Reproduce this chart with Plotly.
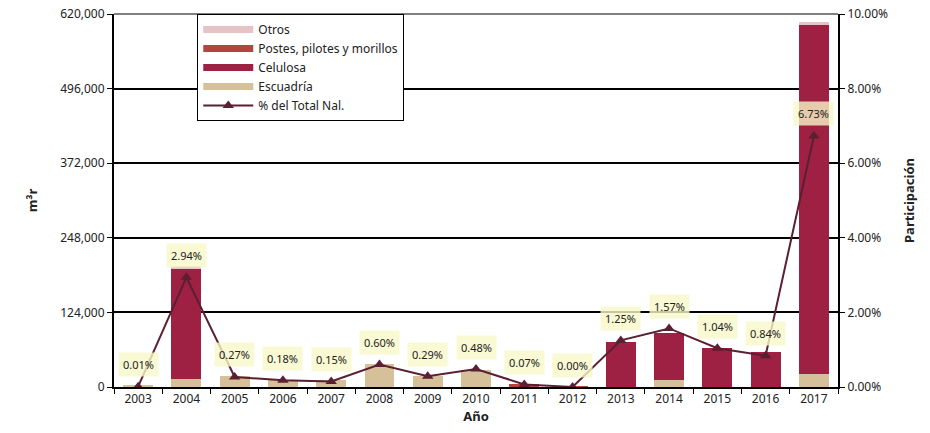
from plotly import graph_objects as go

# Data
years = ["2003", "2004", "2005", "2006", "2007", "2008", "2009", "2010",
         "2011", "2012", "2013", "2014", "2015", "2016", "2017"]
escuadria = [3500, 12800, 18800, 11600, 11600, 38700, 18800, 28300,
             0, 0, 0, 11600, 0, 0, 21600]
celulosa = [0, 183300, 0, 0, 0, 0, 0, 0,
            0, 0, 74800, 77600, 64800, 58200, 581700]
postes = [0, 0, 0, 0, 0, 0, 0, 0,
          4500, 500, 0, 0, 0, 0, 0]
otros = [0, 5500, 0, 0, 0, 0, 0, 0,
         0, 0, 0, 0, 0, 0, 3000]
pct_total = [0.01, 2.94, 0.27, 0.18, 0.15, 0.60, 0.29, 0.48,
             0.07, 0.00, 1.25, 1.57, 1.04, 0.84, 6.73]
left_ticks = [0, 124000, 248000, 372000, 496000, 620000]
right_ticks = [0, 2, 4, 6, 8, 10]

FONT = "Noto Sans"
LINE_COLOUR = "#5a1f30"

fig = go.Figure()

bar_series = [
    ("Escuadría", escuadria, "#d5c09a", 4),
    ("Celulosa", celulosa, "#9e2043", 3),
    ("Postes, pilotes y morillos", postes, "#b4453e", 2),
    ("Otros", otros, "#e6c3c7", 1),
]
for name, values, colour, rank in bar_series:
    fig.add_trace(
        go.Bar(
            x=years,
            y=values,
            name=name,
            marker={"color": colour, "line": {"width": 0}},
            showlegend=False,
        )
    )
    # legend entry drawn as a wide colour strip, like the original
    fig.add_trace(
        go.Scatter(
            x=[None],
            y=[None],
            name=name,
            mode="lines",
            line={"color": colour, "width": 7},
            legendrank=rank,
            hoverinfo="skip",
        )
    )

fig.add_trace(
    go.Scatter(
        x=years,
        y=pct_total,
        name="% del Total Nal.",
        yaxis="y2",
        mode="lines+markers",
        line={"color": LINE_COLOUR, "width": 2},
        marker={"symbol": "triangle-up", "size": 10, "color": LINE_COLOUR},
        legendrank=5,
    )
)

# Percentage labels with pale yellow boxes (category serial numbers for x)
for idx, val in enumerate(pct_total):
    fig.add_annotation(
        x=idx,
        y=val,
        yref="y2",
        text=f"{val:.2f}%",
        showarrow=False,
        yshift=22,
        bgcolor="rgba(247,247,200,0.8)",
        borderpad=4,
        font={"size": 11, "color": "#222222", "family": FONT},
    )

# grey top border of the plot area
fig.add_shape(
    type="line", xref="paper", yref="paper", x0=0, x1=1, y0=1, y1=1,
    line={"color": "#808080", "width": 2},
)

fig.update_layout(
    width=930,
    height=433,
    margin={"l": 114, "r": 92, "t": 14, "b": 46},
    barmode="stack",
    bargap=0.38,
    plot_bgcolor="white",
    paper_bgcolor="white",
    font={"family": FONT, "size": 12, "color": "#222222"},
    showlegend=True,
    legend={
        "x": 0.115,
        "y": 1.0,
        "xanchor": "left",
        "yanchor": "top",
        "traceorder": "normal",
        "bgcolor": "white",
        "bordercolor": "black",
        "borderwidth": 1,
        "font": {"size": 12},
        "tracegroupgap": 0,
        "itemwidth": 50,
    },
    xaxis={
        "type": "category",
        "range": [-0.5, 14.5],
        "title": {"text": "<b>Año</b>", "standoff": 2, "font": {"size": 13}},
        "showline": True,
        "linecolor": "black",
        "linewidth": 2,
        "ticks": "outside",
        "tickson": "boundaries",
        "ticklen": 5,
        "tickcolor": "black",
        "tickangle": 0,
        "showgrid": False,
        "automargin": False,
    },
    yaxis={
        "title": {"text": "<b>m³r</b>", "standoff": 20, "font": {"size": 13}},
        "range": [0, 620000],
        "tickvals": left_ticks,
        "tickformat": ",",
        "showline": True,
        "linecolor": "black",
        "linewidth": 2,
        "ticks": "outside",
        "ticklen": 5,
        "tickcolor": "black",
        "ticklabeloverflow": "allow",
        "showgrid": True,
        "gridcolor": "black",
        "gridwidth": 1.5,
        "zeroline": False,
        "automargin": False,
    },
    yaxis2={
        "title": {"text": "<b>Participación</b>", "standoff": 18, "font": {"size": 13}},
        "overlaying": "y",
        "side": "right",
        "range": [0, 10],
        "tickvals": right_ticks,
        "ticktext": [f"{v:.2f}%" for v in right_ticks],
        "showline": True,
        "linecolor": "black",
        "linewidth": 2,
        "ticks": "outside",
        "ticklen": 5,
        "tickcolor": "black",
        "ticklabeloverflow": "allow",
        "showgrid": False,
        "zeroline": False,
        "automargin": False,
    },
)

# drop the default 8px page margin so the figure fills the window
fig.write_html(
    "out.html",
    config={"displayModeBar": False},
    post_script="document.body.style.margin = '0';",
)
